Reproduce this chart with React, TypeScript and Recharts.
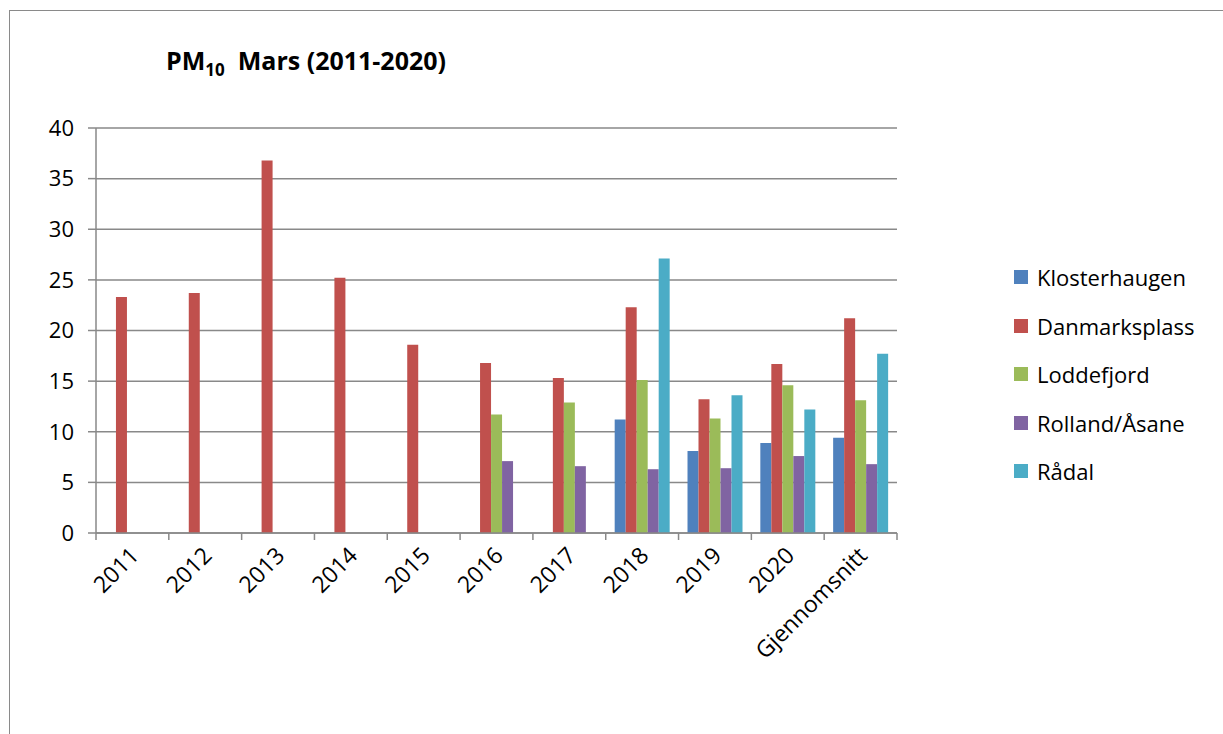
import { BarChart, Bar, XAxis, YAxis, CartesianGrid } from 'recharts';

const categories = ['2011', '2012', '2013', '2014', '2015', '2016', '2017', '2018', '2019', '2020', 'Gjennomsnitt'];

const klosterhaugen = [null, null, null, null, null, null, null, 11.2, 8.1, 8.9, 9.4];
const danmarksplass = [23.3, 23.7, 36.8, 25.2, 18.6, 16.8, 15.3, 22.3, 13.2, 16.7, 21.2];
const loddefjord = [null, null, null, null, null, 11.7, 12.9, 15.1, 11.3, 14.6, 13.1];
const rollandAasane = [null, null, null, null, null, 7.1, 6.6, 6.3, 6.4, 7.6, 6.8];
const raadal = [null, null, null, null, null, null, null, 27.1, 13.6, 12.2, 17.7];

const yTicks = [0, 5, 10, 15, 20, 25, 30, 35, 40];

const series = [
  { key: 'klosterhaugen', name: 'Klosterhaugen', color: '#4f81bd' },
  { key: 'danmarksplass', name: 'Danmarksplass', color: '#c0504d' },
  { key: 'loddefjord', name: 'Loddefjord', color: '#9bbb59' },
  { key: 'rollandAasane', name: 'Rolland/Åsane', color: '#8064a2' },
  { key: 'raadal', name: 'Rådal', color: '#4bacc6' },
];

const data = categories.map((c, i) => ({
  name: c,
  klosterhaugen: klosterhaugen[i],
  danmarksplass: danmarksplass[i],
  loddefjord: loddefjord[i],
  rollandAasane: rollandAasane[i],
  raadal: raadal[i],
}));

const FONT = '"Open Sans", Lato, sans-serif';
const GRID = '#898989';

// category ticks sit on the band edges, like Excel does
function XTick(props: any) {
  const { x, y, payload, index } = props;
  const half = payload?.offset ?? 36.45;
  const last = index === categories.length - 1;
  const tx = x + 8;
  const ty = y + 24;
  return (
    <g>
      <line x1={x - half} y1={y} x2={x - half} y2={y + 7} stroke={GRID} strokeWidth={1.5} />
      {last && <line x1={x + half} y1={y} x2={x + half} y2={y + 7} stroke={GRID} strokeWidth={1.5} />}
      <text
        x={tx}
        y={ty}
        textAnchor="end"
        transform={`rotate(-45 ${tx} ${ty})`}
        fontSize={23}
        fontFamily={FONT}
        fill="#000"
      >
        {payload.value}
      </text>
    </g>
  );
}

export default function App() {
  return (
    <div style={{ position: 'absolute', left: 0, top: 0, width: 1223, height: 734, overflow: 'hidden', background: '#fff' }}>
      <div
        style={{
          position: 'absolute',
          left: 9,
          top: 10,
          width: 1240,
          height: 760,
          borderLeft: '1.5px solid #8a8a8a',
          borderTop: '1.5px solid #8a8a8a',
        }}
      />
      <div
        style={{
          position: 'absolute',
          left: 166,
          top: 43,
          fontFamily: FONT,
          fontWeight: 700,
          fontSize: 25,
          lineHeight: '34px',
          color: '#000',
          whiteSpace: 'nowrap',
        }}
      >
        PM<sub style={{ fontSize: 17, lineHeight: 0 }}>10</sub>&nbsp; Mars (2011-2020)
      </div>

      <div style={{ position: 'absolute', left: 0, top: 0 }}>
        <BarChart
          width={1223}
          height={734}
          data={data}
          margin={{ top: 128, right: 326, left: 0, bottom: 51 }}
          barGap={0}
          barCategoryGap="12.3%"
        >
          <CartesianGrid vertical={false} stroke={GRID} strokeWidth={1.5} />
          <XAxis
            dataKey="name"
            height={150}
            interval={0}
            tickSize={0}
            tickMargin={0}
            tickLine={false}
            axisLine={{ stroke: GRID, strokeWidth: 1.5 }}
            tick={<XTick />}
          />
          <YAxis
            width={96}
            domain={[0, 40]}
            ticks={yTicks}
            interval={0}
            tickSize={8}
            tickMargin={14}
            axisLine={{ stroke: GRID, strokeWidth: 1.5 }}
            tickLine={{ stroke: GRID, strokeWidth: 1.5 }}
            tick={{ fontSize: 22, fontFamily: FONT, fill: '#000' }}
          />
          {series.map((s) => (
            <Bar key={s.key} dataKey={s.key} name={s.name} fill={s.color} isAnimationActive={false} />
          ))}
        </BarChart>
      </div>

      <div style={{ position: 'absolute', left: 1014, top: 253, fontFamily: FONT, fontSize: 22, color: '#000' }}>
        {series.map((s) => (
          <div key={s.key} style={{ display: 'flex', alignItems: 'center', height: 48.5 }}>
            <div style={{ width: 14, height: 14, background: s.color, marginRight: 9 }} />
            <span>{s.name}</span>
          </div>
        ))}
      </div>
    </div>
  );
}
